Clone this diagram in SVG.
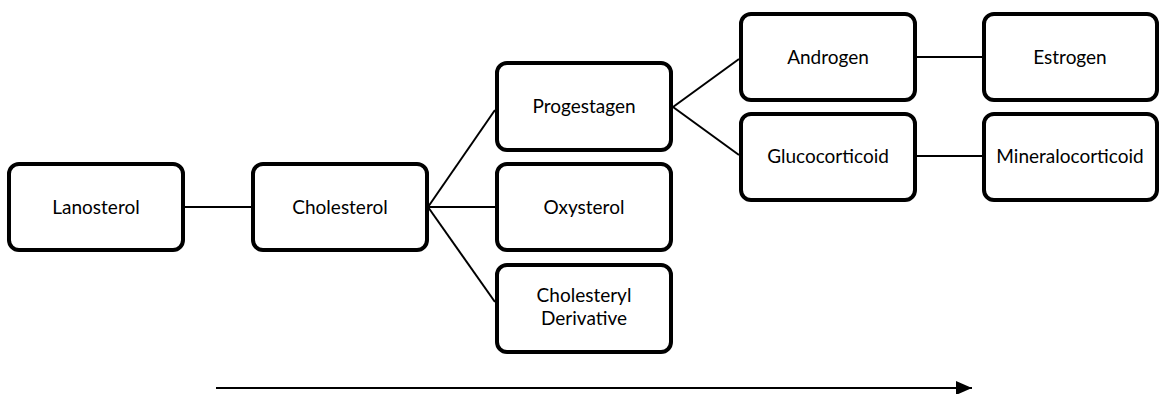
<svg xmlns="http://www.w3.org/2000/svg" width="1160" height="394" viewBox="0 0 1160 394">
<style>
.box{fill:#fff;stroke:#000;stroke-width:4}
.lbl{font-family:Lato,"Liberation Sans",sans-serif;font-size:19px;fill:#000;text-anchor:middle}
.con{stroke:#000;stroke-width:2;fill:none}
</style>
<defs>
<marker id="ah" viewBox="0 0 16 14" refX="16" refY="7" markerWidth="16" markerHeight="14" markerUnits="userSpaceOnUse" orient="auto">
<path d="M0,0 L16,7 L0,14 Z" fill="#000"/>
</marker>
</defs>
<rect width="1160" height="394" fill="#fff"/>
<g id="connectors">
<line class="con" x1="185" y1="207" x2="251" y2="207"/>
<line class="con" x1="428" y1="207" x2="495" y2="110"/>
<line class="con" x1="428" y1="207" x2="495" y2="207"/>
<line class="con" x1="428" y1="207" x2="495" y2="302"/>
<line class="con" x1="673" y1="107" x2="739" y2="59"/>
<line class="con" x1="673" y1="107" x2="739" y2="155"/>
<line class="con" x1="917" y1="57" x2="983" y2="57"/>
<line class="con" x1="917" y1="156" x2="983" y2="156"/>
<line class="con" x1="216" y1="388" x2="972" y2="388" marker-end="url(#ah)"/>
</g>
<g id="lanosterol"><rect class="box" x="9" y="164" width="174" height="86" rx="10"/><text class="lbl" x="96" y="214">Lanosterol</text></g>
<g id="cholesterol"><rect class="box" x="253" y="164" width="174" height="86" rx="10"/><text class="lbl" x="340" y="214">Cholesterol</text></g>
<g id="progestagen"><rect class="box" x="497" y="63" width="174" height="87" rx="10"/><text class="lbl" x="584" y="113">Progestagen</text></g>
<g id="oxysterol"><rect class="box" x="497" y="164" width="174" height="86" rx="10"/><text class="lbl" x="584" y="214">Oxysterol</text></g>
<g id="cholesteryl-derivative"><rect class="box" x="497" y="265" width="174" height="87" rx="10"/><text class="lbl" x="584" y="302">Cholesteryl</text><text class="lbl" x="584" y="325">Derivative</text></g>
<g id="androgen"><rect class="box" x="741" y="14" width="174" height="86" rx="10"/><text class="lbl" x="828" y="64">Androgen</text></g>
<g id="glucocorticoid"><rect class="box" x="741" y="114" width="174" height="86" rx="10"/><text class="lbl" x="828" y="163">Glucocorticoid</text></g>
<g id="estrogen"><rect class="box" x="984" y="14" width="173" height="86" rx="10"/><text class="lbl" x="1070" y="64">Estrogen</text></g>
<g id="mineralocorticoid"><rect class="box" x="984" y="114" width="173" height="86" rx="10"/><text class="lbl" x="1070" y="163">Mineralocorticoid</text></g>
</svg>
